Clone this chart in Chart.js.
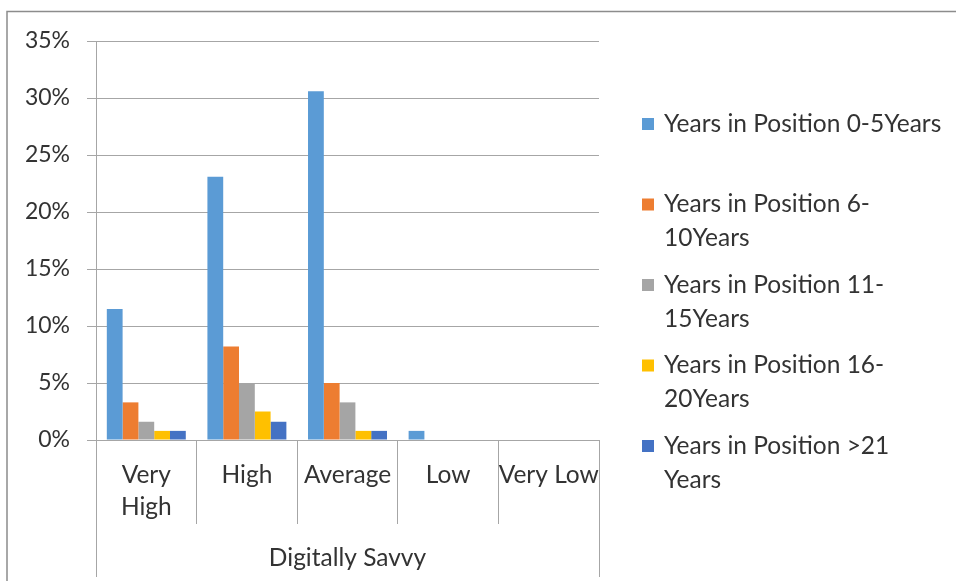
<!DOCTYPE html>
<html>
<head>
<meta charset="utf-8">
<script src="https://cdn.jsdelivr.net/npm/chart.js@4.4.1/dist/chart.umd.min.js"></script>
<style>
  html, body { margin: 0; padding: 0; background: #fff; }
  #wrap { width: 956px; height: 581px; position: relative; }
</style>
</head>
<body>
<div id="wrap"><canvas id="chart" width="956" height="581"></canvas></div>
<script>
// Categories along the x axis (multi-line labels as arrays)
const categories = [['Very', 'High'], 'High', 'Average', 'Low', 'Very Low'];
const groupTitle = 'Digitally Savvy';

// Series names, with the line breaks used in the legend
const seriesLegendLines = [
  ['Years in Position 0-5Years'],
  ['Years in Position 6-', '10Years'],
  ['Years in Position 11-', '15Years'],
  ['Years in Position 16-', '20Years'],
  ['Years in Position >21', 'Years']
];

// Share of respondents (%) per category
const years0to5   = [11.5, 23.1, 30.6, 0.8, 0];
const years6to10  = [3.3, 8.2, 5.0, 0, 0];
const years11to15 = [1.6, 5.0, 3.3, 0, 0];
const years16to20 = [0.8, 2.5, 0.8, 0, 0];
const years21plus = [0.8, 1.6, 0.8, 0, 0];

// Y axis range
const yMin = 0;
const yMax = 35;
const yStep = 5;

const seriesValues = [years0to5, years6to10, years11to15, years16to20, years21plus];
const seriesColors = ['#5B9BD5', '#ED7D31', '#A5A5A5', '#FFC000', '#4472C4'];

const FONT_FAMILY = 'Lato, "Open Sans", sans-serif';
const FONT_SIZE = 24.5;
const TICK_FONT_SIZE = 23;
const TEXT_COLOR = '#333333';
const GRID_COLOR = '#A6A6A6';

// Outer frame lines plus the long group separators below the axis
const framePlugin = {
  id: 'frame',
  afterDraw(chart) {
    const { ctx } = chart;
    const x = chart.scales.x;
    ctx.save();
    // chart border (left and top edges)
    ctx.strokeStyle = '#8C8C8C';
    ctx.lineWidth = 1.5;
    ctx.beginPath();
    ctx.moveTo(7, chart.height);
    ctx.lineTo(7, 11.5);
    ctx.lineTo(chart.width, 11.5);
    ctx.stroke();
    // outer separators of the category group
    ctx.strokeStyle = GRID_COLOR;
    ctx.lineWidth = 1;
    ctx.beginPath();
    [x.left, x.right].forEach(px => {
      const ax = Math.round(px) + 0.5;
      ctx.moveTo(ax, x.top);
      ctx.lineTo(ax, chart.height - 4);
    });
    ctx.stroke();
    ctx.restore();
  }
};

// Legend on the right with wrapped entries in fixed slots
const sideLegendPlugin = {
  id: 'sideLegend',
  afterDraw(chart, args, opts) {
    const { ctx } = chart;
    ctx.save();
    ctx.font = `${FONT_SIZE}px ${FONT_FAMILY}`;
    ctx.textBaseline = 'middle';
    ctx.textAlign = 'left';
    chart.data.datasets.forEach((ds, i) => {
      const y0 = opts.top + i * opts.slot;
      ctx.fillStyle = ds.backgroundColor;
      ctx.fillRect(opts.boxX, y0 - opts.box / 2, opts.box, opts.box);
      ctx.fillStyle = TEXT_COLOR;
      seriesLegendLines[i].forEach((line, k) => {
        ctx.fillText(line, opts.textX, y0 + k * opts.lineHeight);
      });
    });
    ctx.restore();
  }
};

const datasets = seriesValues.map((vals, i) => ({
  label: seriesLegendLines[i].join(''),
  data: vals,
  backgroundColor: seriesColors[i],
  borderWidth: 0,
  categoryPercentage: 0.785,
  barPercentage: 1.0
}));

new Chart(document.getElementById('chart'), {
  type: 'bar',
  data: { labels: categories, datasets },
  plugins: [framePlugin, sideLegendPlugin],
  options: {
    responsive: false,
    animation: false,
    devicePixelRatio: 1,
    layout: { padding: { left: 0, top: 41, right: 357, bottom: 0 } },
    plugins: {
      legend: { display: false },
      tooltip: { enabled: false },
      sideLegend: { top: 124, slot: 80.5, lineHeight: 34, box: 12, boxX: 642, textX: 664 }
    },
    scales: {
      x: {
        type: 'category',
        offset: true,
        grid: {
          offset: true,
          drawOnChartArea: false,
          drawTicks: true,
          tickLength: 84,
          color: GRID_COLOR,
          lineWidth: 1
        },
        border: { display: true, color: GRID_COLOR, width: 1 },
        ticks: {
          color: TEXT_COLOR,
          font: { family: FONT_FAMILY, size: FONT_SIZE, lineHeight: 1.3 },
          padding: -65,
          maxRotation: 0,
          autoSkip: false
        },
        title: {
          display: true,
          text: groupTitle,
          color: TEXT_COLOR,
          font: { family: FONT_FAMILY, size: FONT_SIZE },
          padding: { top: 0, bottom: 8 }
        },
        afterFit(scale) { scale.height = 141; }
      },
      y: {
        min: yMin,
        max: yMax,
        grid: {
          color: GRID_COLOR,
          lineWidth: 1,
          drawTicks: true,
          tickLength: 9
        },
        border: { display: true, color: GRID_COLOR, width: 1 },
        ticks: {
          stepSize: yStep,
          padding: 17,
          color: TEXT_COLOR,
          font: { family: FONT_FAMILY, size: TICK_FONT_SIZE },
          callback: v => v + '%'
        },
        afterFit(scale) { scale.width = 96; }
      }
    }
  }
});
</script>
</body>
</html>
